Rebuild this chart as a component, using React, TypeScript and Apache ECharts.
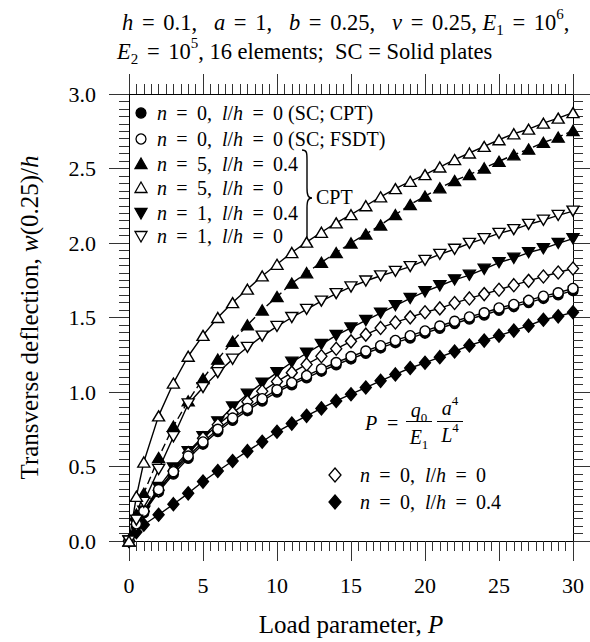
import React, { useEffect, useRef } from "react";
import * as echarts from "echarts";

const FONT = "'Liberation Serif', 'Times New Roman', serif";

// Load parameter values
const P = [0, 0.5, 1, 2, 3, 4, 5, 6, 7, 8, 9, 10, 11, 12, 13, 14, 15, 16, 17, 18, 19, 20, 21, 22, 23, 24, 25, 26, 27, 28, 29, 30];

// n = 0, l/h = 0 (SC; CPT)  filled circles
const scCPT = [0, 0.11, 0.19, 0.33, 0.45, 0.555, 0.65, 0.735, 0.81, 0.875, 0.94, 1.0, 1.049, 1.095, 1.14, 1.183, 1.222, 1.26, 1.296, 1.331, 1.362, 1.395, 1.428, 1.46, 1.49, 1.517, 1.549, 1.573, 1.6, 1.628, 1.652, 1.68];
// n = 0, l/h = 0 (SC; FSDT) open circles
const scFSDT = [0, 0.115, 0.2, 0.345, 0.465, 0.57, 0.665, 0.75, 0.825, 0.89, 0.955, 1.015, 1.063, 1.11, 1.155, 1.198, 1.238, 1.275, 1.311, 1.346, 1.378, 1.41, 1.443, 1.475, 1.504, 1.532, 1.564, 1.588, 1.615, 1.643, 1.666, 1.695];
// n = 5, l/h = 0.4 filled triangles
const n5lh04 = [0, 0.18, 0.32, 0.56, 0.77, 0.94, 1.09, 1.22, 1.34, 1.45, 1.55, 1.64, 1.73, 1.8, 1.87, 1.935, 2.0, 2.06, 2.12, 2.19, 2.258, 2.314, 2.37, 2.419, 2.459, 2.503, 2.548, 2.592, 2.63, 2.675, 2.71, 2.755];
// n = 5, l/h = 0 open triangles
const n5lh0 = [0, 0.3, 0.53, 0.84, 1.06, 1.24, 1.38, 1.5, 1.6, 1.69, 1.779, 1.857, 1.936, 2.006, 2.072, 2.135, 2.19, 2.25, 2.31, 2.365, 2.414, 2.459, 2.51, 2.56, 2.604, 2.648, 2.693, 2.733, 2.764, 2.804, 2.838, 2.875];
// n = 1, l/h = 0.4 filled down triangles
const n1lh04 = [0, 0.11, 0.2, 0.36, 0.49, 0.6, 0.7, 0.8, 0.9, 0.985, 1.06, 1.13, 1.2, 1.26, 1.32, 1.38, 1.43, 1.48, 1.53, 1.58, 1.628, 1.673, 1.713, 1.753, 1.784, 1.824, 1.869, 1.898, 1.936, 1.962, 1.998, 2.029];
// n = 1, l/h = 0 open down triangles
const n1lh0 = [0, 0.14, 0.26, 0.48, 0.7, 0.92, 1.03, 1.13, 1.22, 1.3, 1.375, 1.44, 1.5, 1.555, 1.61, 1.66, 1.705, 1.745, 1.78, 1.81, 1.842, 1.884, 1.924, 1.958, 1.998, 2.029, 2.065, 2.09, 2.125, 2.153, 2.185, 2.214];
// n = 0, l/h = 0 open diamonds
const n0lh0 = [0, 0.11, 0.2, 0.34, 0.47, 0.59, 0.69, 0.78, 0.86, 0.935, 1.005, 1.07, 1.13, 1.185, 1.24, 1.29, 1.34, 1.385, 1.43, 1.467, 1.501, 1.535, 1.561, 1.597, 1.628, 1.657, 1.686, 1.717, 1.746, 1.775, 1.802, 1.829];
// n = 0, l/h = 0.4 filled diamonds
const n0lh04 = [0, 0.06, 0.109, 0.176, 0.247, 0.32, 0.399, 0.47, 0.537, 0.603, 0.666, 0.733, 0.788, 0.84, 0.89, 0.94, 0.985, 1.03, 1.075, 1.118, 1.161, 1.196, 1.234, 1.272, 1.312, 1.345, 1.378, 1.412, 1.445, 1.485, 1.508, 1.535];

const X_TICKS = { min: 0, max: 30, interval: 5 };
const Y_TICKS = { min: 0, max: 3, interval: 0.5 };

echarts.graphic.registerShape(
  "brace",
  echarts.graphic.extendPath(
    "M302,150 C307,150 307,153 307,160 L307,188 C307,195 308,198 312,198 C308,198 307,201 307,208 L307,237 C307,244 307,247 302,247",
    {}
  )
);

const rich = (size: number, eqW: number) => {
  const s = Math.round(size * 0.65);
  return {
    i: { fontStyle: "italic", fontFamily: FONT, fontSize: size, lineHeight: size + 8 },
    r: { fontFamily: FONT, fontSize: size, lineHeight: size + 8 },
    eq: { fontFamily: FONT, fontSize: size, lineHeight: size + 8, width: eqW, align: "center" },
    sup: { fontFamily: FONT, fontSize: s, verticalAlign: "top", lineHeight: s },
    sub: { fontFamily: FONT, fontSize: s, verticalAlign: "bottom", lineHeight: s },
  };
};

function mkSeries(name: string, vals: number[], symbol: string, filled: boolean, size: any, rotate = 0, dashed = false) {
  return {
    name,
    type: "line",
    data: P.map((p, i) => [p, vals[i]]),
    symbol,
    symbolSize: size,
    symbolRotate: rotate,
    showSymbol: true,
    showAllSymbol: true,
    smooth: false,
    itemStyle: { color: filled ? "#000" : "#fff", borderColor: "#000", borderWidth: 1.4 },
    lineStyle: { color: "#000", width: 1.4, type: dashed ? [8, 4] : "solid" },
    emphasis: { disabled: true },
    z: filled ? 3 : 4,
  };
}

function axisCommon() {
  return {
    axisLine: { onZero: false, lineStyle: { color: "#000", width: 1 } },
    axisTick: { show: true, length: 20, lineStyle: { color: "#333", width: 1 } },
    minorTick: { show: true, splitNumber: 10, length: 10, lineStyle: { color: "#333", width: 1 } },
    splitLine: { show: false },
    minorSplitLine: { show: false },
  };
}

export default function App() {
  const ref = useRef<HTMLDivElement>(null);
  useEffect(() => {
    if (!ref.current) return;
    const chart = echarts.init(ref.current, null, { renderer: "svg" });

    const LS = 20; // legend font size
    const EQ = 30;
    const legendRows = [113, 139, 164, 188, 213, 236];
    const mx = 141;
    const tx = 157;
    const tri = (x: number, y: number, up: boolean) =>
      up
        ? [[x, y - 6], [x + 6, y + 4.5], [x - 6, y + 4.5]]
        : [[x, y + 6], [x + 6, y - 4.5], [x - 6, y - 4.5]];
    const dia = (x: number, y: number) => [[x, y - 7], [x + 6, y], [x, y + 7], [x - 6, y]];
    const blk = { fill: "#000", stroke: "#000", lineWidth: 1.3 };
    const wht = { fill: "#fff", stroke: "#000", lineWidth: 1.3 };
    const legendTexts = [
      "{i|n}{eq|=}0,  {i|l}/{i|h}{eq|=}0 (SC; CPT)",
      "{i|n}{eq|=}0,  {i|l}/{i|h}{eq|=}0 (SC; FSDT)",
      "{i|n}{eq|=}5,  {i|l}/{i|h}{eq|=}0.4",
      "{i|n}{eq|=}5,  {i|l}/{i|h}{eq|=}0",
      "{i|n}{eq|=}1,  {i|l}/{i|h}{eq|=}0.4",
      "{i|n}{eq|=}1,  {i|l}/{i|h}{eq|=}0",
    ];
    const legendMarkers: any[] = [
      { type: "circle", shape: { cx: mx, cy: legendRows[0], r: 5 }, style: blk },
      { type: "circle", shape: { cx: mx, cy: legendRows[1], r: 5 }, style: wht },
      { type: "polygon", shape: { points: tri(mx, legendRows[2], true) }, style: blk },
      { type: "polygon", shape: { points: tri(mx, legendRows[3], true) }, style: wht },
      { type: "polygon", shape: { points: tri(mx, legendRows[4], false) }, style: blk },
      { type: "polygon", shape: { points: tri(mx, legendRows[5], false) }, style: wht },
    ];
    const txt = (x: number, y: number, text: string, size: number, eqW: number, align = "left") => ({
      type: "text",
      x,
      y,
      style: { text, rich: rich(size, eqW), fontFamily: FONT, fontSize: size, fill: "#000", verticalAlign: "middle", align },
    });
    const graphics: any[] = [
      ...legendMarkers,
      ...legendTexts.map((t, k) => txt(tx, legendRows[k], t, LS, EQ)),
      { type: "brace", style: { fill: "none", stroke: "#000", lineWidth: 1.4 } },
      txt(316, 197, "CPT", 20, EQ),
      // second legend
      { type: "polygon", shape: { points: dia(335, 475) }, style: wht },
      { type: "polygon", shape: { points: dia(335, 502) }, style: blk },
      txt(360, 475, "{i|n}{eq|=}0,  {i|l}/{i|h}{eq|=}0", LS, EQ),
      txt(360, 502, "{i|n}{eq|=}0,  {i|l}/{i|h}{eq|=}0.4", LS, EQ),
      // formula
      txt(365, 423, "{i|P}{eq|=}", 20, 31),
      { type: "line", shape: { x1: 406, y1: 421.5, x2: 432, y2: 421.5 }, style: { stroke: "#000", lineWidth: 1 } },
      { type: "line", shape: { x1: 437, y1: 421.5, x2: 463, y2: 421.5 }, style: { stroke: "#000", lineWidth: 1 } },
      txt(419, 410, "{i|q}{sub|0}", 20, EQ, "center"),
      txt(419, 437, "{i|E}{sub|1}", 20, EQ, "center"),
      txt(450, 408, "{i|a}{sup|4}", 20, EQ, "center"),
      txt(450, 435, "{i|L}{sup|4}", 20, EQ, "center"),
      // title
      txt(122, 22, "{i|h}{eq|=}0.1,   {i|a}{eq|=}1,   {i|b}{eq|=}0.25,   {i|ν}{eq|=}0.25, {i|E}{sub|1}{eq|=}10{sup|6},", 22.5, 30),
      txt(117, 51, "{i|E}{sub|2}{eq|=}10{sup|5}, 16 elements;  SC = Solid plates", 22.5, 30),
    ];

    const nameStyle = (size: number) => ({
      fontFamily: FONT,
      fontSize: size,
      color: "#000",
      rich: { i: { fontStyle: "italic", fontFamily: FONT, fontSize: size } },
    });

    const option: any = {
      animation: false,
      backgroundColor: "#fff",
      grid: { left: 129, right: 17, top: 94, bottom: 99, containLabel: false },
      xAxis: [
        {
          type: "value", position: "bottom", ...X_TICKS, ...axisCommon(),
          axisLabel: { margin: 33, fontFamily: FONT, fontSize: 22, color: "#000" },
          name: "Load parameter, {i|P}", nameLocation: "middle", nameGap: 71,
          nameTextStyle: nameStyle(25),
        },
        { type: "value", position: "top", ...X_TICKS, ...axisCommon(), axisLabel: { show: false } },
      ],
      yAxis: [
        {
          type: "value", position: "left", ...Y_TICKS, ...axisCommon(),
          axisLabel: { margin: 33, fontFamily: FONT, fontSize: 22, color: "#000", formatter: (v: number) => v.toFixed(1) },
          name: "Transverse deflection, {i|w}(0.25)/{i|h}", nameLocation: "middle", nameGap: 87,
          nameTextStyle: nameStyle(25),
        },
        { type: "value", position: "right", ...Y_TICKS, ...axisCommon(), axisLabel: { show: false } },
      ],
      series: [
        mkSeries("n0lh04", n0lh04, "diamond", true, [11, 13]),
        mkSeries("n0lh0", n0lh0, "diamond", false, [11, 13]),
        mkSeries("scCPT", scCPT, "circle", true, 10),
        mkSeries("scFSDT", scFSDT, "circle", false, 10),
        mkSeries("n1lh04", n1lh04, "triangle", true, [12, 10], 180),
        mkSeries("n1lh0", n1lh0, "triangle", false, [12, 10], 180),
        mkSeries("n5lh04", n5lh04, "triangle", true, [12, 10], 0, true),
        mkSeries("n5lh0", n5lh0, "triangle", false, [12, 10]),
      ],
      graphic: graphics,
    };
    chart.setOption(option);
    return () => chart.dispose();
  }, []);
  return <div ref={ref} style={{ position: "fixed", left: 0, top: 0, width: 590, height: 642 }} />;
}
